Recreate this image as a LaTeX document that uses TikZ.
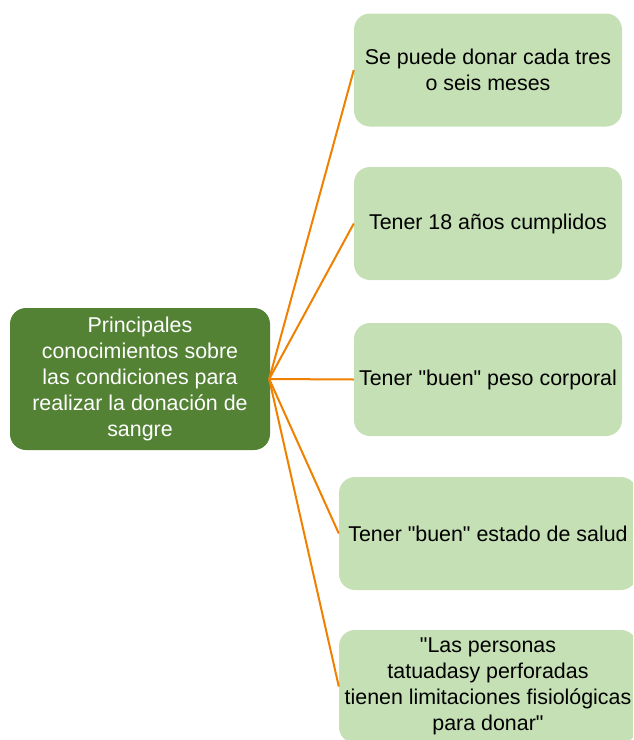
\documentclass[tikz,border=0pt]{standalone}
\usepackage{fontspec}
\setmainfont{Liberation Sans}[Ligatures=TeXOff]
\definecolor{rootgreen}{RGB}{84,130,53}
\definecolor{leafgreen}{RGB}{197,224,180}
\definecolor{linkorange}{RGB}{240,128,0}
\begin{document}
\begin{tikzpicture}[x=1pt,y=-1pt,
  txt/.style={font=\fontsize{21.4}{26}\selectfont, align=center, inner sep=0pt},
  rootbox/.style={txt, fill=rootgreen, text=white, rounded corners=16pt, minimum width=260pt, minimum height=142pt},
  leafbox/.style={txt, fill=leafgreen, text=black, rounded corners=16pt, minimum height=113pt},
  link/.style={draw=linkorange, line width=2pt}]
\useasboundingbox (0,0) rectangle (633,740);
\clip (0,0) rectangle (633,740);
\node[rootbox] (root) at (140,379) {Principales\\conocimientos sobre\\las condiciones para\\realizar la donación de\\sangre};
\node[leafbox, minimum width=268pt] (l1) at (488,70) {Se puede donar cada tres\\o seis meses};
\node[leafbox, minimum width=268pt] (l2) at (488,223.5) {Tener 18 años cumplidos};
\node[leafbox, minimum width=268pt] (l3) at (488,379.5) {Tener "buen" peso corporal};
\node[leafbox, minimum width=298pt] (l4) at (488,533.5) {Tener "buen" estado de salud};
\node[leafbox, minimum width=298pt] (l5) at (488,686.5) {"Las personas\\tatuadasy perforadas\\tienen limitaciones fisiológicas\\para donar"};
\coordinate (hub) at ([xshift=-1pt]root.east);
\draw[link] (hub) -- (l1.west);
\draw[link] (hub) -- (l2.west);
\draw[link] (hub) -- (l3.west);
\draw[link] (hub) -- (l4.west);
\draw[link] (hub) -- (l5.west);
\end{tikzpicture}
\end{document}
